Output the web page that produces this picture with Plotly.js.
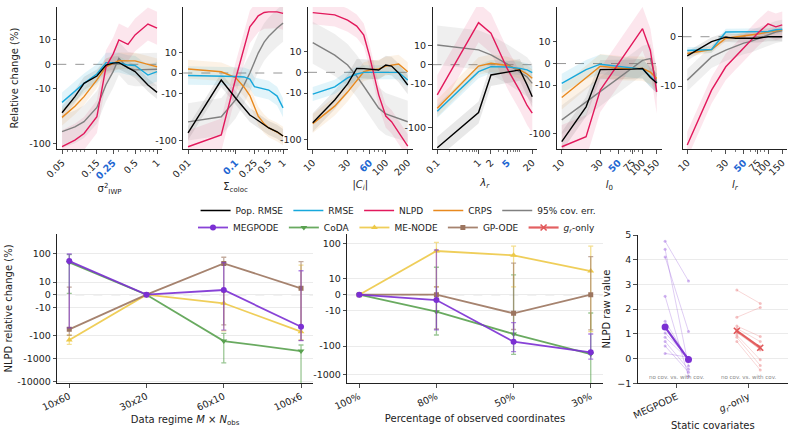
<!DOCTYPE html>
<html>
<head>
<meta charset="utf-8">
<script src="https://cdn.plot.ly/plotly-3.0.1.min.js"></script>
<style>
  html, body { margin: 0; padding: 0; background: #fff; }
  #chart { width: 794px; height: 431px; }
</style>
</head>
<body>
<div id="chart"></div>
<script>
// ---------------- sensitivity sweeps (relative change, %) ----------------
const metricNames = ['Pop. RMSE', 'RMSE', 'NLPD', 'CRPS', '95% cov. err.'];

const sigmaIwp   = [0.05, 0.075, 0.1, 0.15, 0.2, 0.25, 0.3, 0.4, 0.5, 0.75, 1];
const popRmseIwp = [-27.5, -14, -7.8, -4.8, -0.3, 0.5, 0.7, -1.2, -3, -8.5, -11.7];
const rmseIwp    = [-17.8, -11.4, -7.8, -4, 0.7, 0.7, 0.7, -0.3, -0.5, -4.4, -3];
const nlpdIwp    = [-115, -87, -66, -32.5, -1, 4.2, 10, 8.2, 12.4, 19.6, 16.4];
const crpsIwp    = [-33.5, -21, -14, -6.4, -1, 0.4, 1.5, 1.4, 1.4, 0, -1];
const covIwp     = [-61, -50, -40, -22, -8.4, -3, 2.5, -1.6, -2.3, -2.3, -2];
const spreadIwp  = [0.12, 0.18, 0.3, 0.15, 0.3];
const ticksIwp   = [0.05, 0.15, 0.25, 0.5, 1];
const defaultIwp = 0.25;

const sigmaColoc   = [0.01, 0.05, 0.1, 0.15, 0.2, 0.25, 0.3, 0.4, 0.5, 0.75, 1];
const popRmseColoc = [-69, -3.4, -12.3, -20, -28.5, -33, -38, -46, -54, -65, -80];
const rmseColoc    = [-1.2, -1.4, -1.7, -1.9, -2.9, -6.6, -7, -7.7, -8.2, -11.2, -20];
const nlpdColoc    = [-136, -76, -2.9, 12.3, 35, 46.6, 60, 71, 73, 73, 68];
const crpsColoc    = [1.9, 0.6, -2.2, -6.7, -10.9, -19, -30, -44, -54, -66, -80];
const covColoc     = [-40, -31, -13.5, -5.8, 0, 5.3, 9.6, 16.5, 22, 33, 42];
const spreadColoc  = [0.15, 0.2, 0.35, 0.2, 0.4];
const ticksColoc   = [0.01, 0.1, 0.25, 0.5, 1];
const defaultColoc = 0.1;

const cliqueSize    = [10, 20, 30, 40, 50, 60, 80, 100, 120, 150, 200];
const popRmseClique = [-43, -14, -5.6, 1.9, 1.8, 1.4, 1.1, 3.5, 3, -0.3, -6.1];
const rmseClique    = [-10.5, -7, -2.7, -0.8, 0, 0, 0, 0, 0, 0, -3.7];
const nlpdClique    = [68, 61, 47, 35, 22.4, 7.8, -10.9, -31, -41, -71, -136];
const crpsClique    = [-45, -19, -9.5, -3.7, 0.3, 1.1, 1.6, 3, 3.5, 4, 0.3];
const covClique     = [15.5, 8.3, 3.5, -1.8, -6.7, -11, -21, -28, -31, -34, -41];
const spreadClique  = [0.2, 0.15, 0.25, 0.2, 0.45];
const ticksClique   = [10, 30, 60, 100, 200];
const defaultClique = 60;

const lambdaR        = [0.1, 1, 2, 5, 10, 15, 20];
const popRmseLambda  = [-285, -44.6, -5.3, -3.8, -2.7, -10.4, -19.4];
const rmseLambda     = [-42, -3.6, -1, -1.2, -1.9, -2.7, -4.1];
const nlpdLambda     = [-17.7, 32.8, 18.8, -2.2, -14.3, -30.8, -46];
const crpsLambda     = [-35.7, -0.7, 0.7, -0.4, -2.7, -4.8, -7];
const covLambda      = [10.1, 7.6, 5, 0.3, -3.8, -6.3, -9.6];
const spreadLambda   = [0.25, 0.15, 0.45, 0.2, 0.45];
const ticksLambda    = [0.1, 1, 2, 5, 20];
const defaultLambda  = 5;

const lengthL0   = [10, 20, 30, 40, 50, 60, 75, 100, 125, 150];
const popRmseL0  = [-147, -28, -2.8, -2.8, -2.8, -2.8, -2.6, -2.3, -6.5, -9];
const rmseL0     = [-9.2, -2.8, -0.3, -0.8, -1.2, -1.6, -2.1, -2.6, -5.9, -9];
const nlpdL0     = [-187, -116, -12.7, -5.6, -0.5, 3.8, 9.1, 18.8, 6.1, -13.8];
const crpsL0     = [-18, -6.3, -1.2, -1.7, -2.1, -2.3, -2.3, -2.3, -4, -6.9];
const covL0      = [-52, -22.4, -13.7, -9.5, -6.9, -4.8, -2.1, 1.5, 2.3, -9];
const spreadL0   = [0.2, 0.2, 0.45, 0.25, 0.3];
const ticksL0    = [10, 30, 50, 75, 100, 150];
const defaultL0  = 50;

const lengthLr   = [10, 20, 30, 40, 50, 60, 75, 100, 125, 150];
const popRmseLr  = [-3.9, -1, -0.1, -0.3, -0.3, -0.3, -0.3, 0, 0, 0];
const rmseLr     = [-2.8, -2.6, 0.95, 0.95, 1.05, 1.05, 1.05, 1.05, 1.4, 1.5];
const nlpdLr     = [-34, -10.9, -6.1, -3.9, -2.3, -1, 0.75, 2.6, 2, 2.4];
const crpsLr     = [-3.4, -2.6, -0.3, -0.06, 0.15, 0.35, 0.55, 0.95, 1.2, 1.4];
const covLr      = [-8.8, -4.1, -2.7, -1.9, -1.3, -1, -0.4, 0.35, 0.95, 1.2];
const spreadLr   = [0.04, 0.03, 0.12, 0.03, 0.1];
const ticksLr    = [10, 30, 50, 75, 100, 150];
const defaultLr  = 50;

// ---------------- NLPD comparisons ----------------
const methodNames = ['MEGPODE', 'CoDA', 'ME-NODE', 'GP-ODE'];

const regimes        = ['10x60', '30x20', '60x10', '100x6'];
const megpodeRegime  = [47, 0, 3.7, -40];
const megpodeRegHi   = [96, 0, 40, 19];
const megpodeRegLo   = [-45, 0, -56, -163];
const codaRegime     = [41, 0, -170, -470];
const codaRegHi      = [90, 0, -78, -255];
const codaRegLo      = [1, 0, -1550, -20000];
const menodeRegime   = [-153, 0, -6.8, -66];
const menodeRegHi    = [-92, 0, 2, 31];
const menodeRegLo    = [-237, 0, -60, -150];
const gpodeRegime    = [-52, 0, 37, 5.1];
const gpodeRegHi     = [6, 0, 69, 44];
const gpodeRegLo     = [-95, 0, -33, -160];

const observedPct    = ['100%', '80%', '50%', '30%'];
const megpodeObs     = [0, -3.4, -70, -165];
const megpodeObsHi   = [0, 58, -17.7, -37.5];
const megpodeObsLo   = [0, -27, -157, -285];
const codaObs        = [0, -10.8, -37.5, -190];
const codaObsHi      = [0, 17.4, 12.5, -11.6];
const codaObsLo      = [0, -40.6, -195, -10000];
const menodeObs      = [0, 53.6, 37.8, 15];
const menodeObsHi    = [0, 108, 80, 80];
const menodeObsLo    = [0, 5, 5, -31];
const gpodeObs       = [0, 0, -11.8, 0];
const gpodeObsHi     = [0, 5, 20, 34];
const gpodeObsLo     = [0, -25, -26, -27];

const covariateModels = ['MEGPODE', '<i>g<sub>r</sub></i>-only'];
const megpodeNoCov    = [4.75, 4.42, 4.11, 2.52, 1.51, 1.04, 0.86, 0.69, 0.51, 0.21];
const megpodeWithCov  = [3.14, -0.3, 1.1, -0.72, -0.05, 0.02, -0.03, -0.43, -0.55, 0.05];
const grOnlyNoCov     = [2.77, 1.67, 1.32, 1.22, 1.15, 1.1, 0.95, 0.86, 0.69, 1.05];
const grOnlyWithCov   = [2.23, 2.07, 0.89, 0.69, 0.35, 0.5, -0.05, -0.28, -0.46, 0.38];

// ---------------- scales & helpers ----------------
const W = 794, H = 431;
const FONT = 'DejaVu Sans, Liberation Sans, sans-serif';
const dx = (l, r) => [l / W, r / W];
const dy = (t, b) => [1 - b / H, 1 - t / H];

// symlog, linear within +-10 (top row)
const topT = v => Math.abs(v) <= 10 ? 0.445 * v / 10 : Math.sign(v) * (0.445 + Math.log10(Math.abs(v) / 10));
// symlog, linear within +-20, linscale 1 (bottom row)
const LS = 1 / (1 - 0.1);
const botT = v => Math.abs(v) <= 20 ? LS * v / 20 : Math.sign(v) * (LS + Math.log10(Math.abs(v) / 20));

const median = a => { const s = a.slice().sort((p, q) => p - q); const n = s.length; return n % 2 ? s[(n - 1) / 2] : (s[n / 2 - 1] + s[n / 2]) / 2; };

const metricColors = ['#000000', '#17a8dc', '#e2195c', '#e8891e', '#808080'];
const metricFills  = ['rgba(0,0,0,0.09)', 'rgba(23,168,220,0.13)', 'rgba(226,25,92,0.11)', 'rgba(232,137,30,0.11)', 'rgba(128,128,128,0.13)'];
const methodColors = ['#7b2fd3', '#59a14f', '#edc948', '#9c755f'];
const methodRgb    = ['123,47,211', '89,161,79', '237,201,72', '156,117,95'];
const methodSymbols = ['circle', 'triangle-down', 'triangle-up', 'square'];
const redRgb = '225,87,89';
const HIGHLIGHT = '#1f67d2';

const topPanels = [
  { x: sigmaIwp,   s: [popRmseIwp, rmseIwp, nlpdIwp, crpsIwp, covIwp],               w: spreadIwp,    ticks: ticksIwp,    ref: defaultIwp,    label: 'σ<sup>2</sup><sub>IWP</sub>',  yr: [-1.548, 1.048], yt: [10, 0, -10, -100] },
  { x: sigmaColoc, s: [popRmseColoc, rmseColoc, nlpdColoc, crpsColoc, covColoc],    w: spreadColoc,  ticks: ticksColoc,  ref: defaultColoc,  label: 'Σ<sub>coloc</sub>',            yr: [-1.627, 1.413], yt: [10, 0, -10, -100] },
  { x: cliqueSize, s: [popRmseClique, rmseClique, nlpdClique, crpsClique, covClique], w: spreadClique, ticks: ticksClique, ref: defaultClique, label: '|<i>C<sub>i</sub></i>|',       yr: [-1.642, 1.399], yt: [10, 0, -10, -100] },
  { x: lambdaR,    s: [popRmseLambda, rmseLambda, nlpdLambda, crpsLambda, covLambda], w: spreadLambda, ticks: ticksLambda, ref: defaultLambda, label: '<i>λ<sub>r</sub></i>',          yr: [-1.93, 1.32],   yt: [10, 0, -10, -100] },
  { x: lengthL0,   s: [popRmseL0, rmseL0, nlpdL0, crpsL0, covL0],                      w: spreadL0,     ticks: ticksL0,     ref: defaultL0,     label: '<i>l</i><sub>0</sub>',         yr: [-1.763, 1.167], yt: [10, 0, -10, -100] },
  { x: lengthLr,   s: [popRmseLr, rmseLr, nlpdLr, crpsLr, covLr],                      w: spreadLr,     ticks: ticksLr,     ref: defaultLr,     label: '<i>l<sub>r</sub></i>',         yr: [-1.013, 0.268], yt: [0, -10] }
];
const topLefts = [57.3, 183.3, 308, 432.5, 557, 682.5];
const topWidth = 104.5;

const traces = [];
const layout = {
  width: W, height: H,
  margin: { l: 0, r: 0, t: 0, b: 0 },
  paper_bgcolor: '#fff', plot_bgcolor: 'rgba(0,0,0,0)',
  font: { family: FONT, size: 9, color: '#222' },
  showlegend: true,
  shapes: [], annotations: [],
  legend: {
    orientation: 'h', x: 0.502, xanchor: 'center', y: 1 - 196 / H, yanchor: 'top',
    font: { size: 9, family: FONT, color: '#222' }, bgcolor: 'rgba(0,0,0,0)', itemwidth: 30, traceorder: 'normal'
  },
  legend2: {
    orientation: 'h', x: 0.5, xanchor: 'center', y: 1 - 213 / H, yanchor: 'top',
    font: { size: 9, family: FONT, color: '#222' }, bgcolor: 'rgba(0,0,0,0)', itemwidth: 30, traceorder: 'normal'
  }
};

const axisBase = {
  showline: true, linecolor: '#222', linewidth: 1, mirror: false,
  ticks: 'outside', ticklen: 3.5, tickwidth: 0.8, tickcolor: '#222',
  zeroline: false, showgrid: false,
  tickfont: { size: 9.5, family: FONT, color: '#222' }
};

function minorLogTicks(lo, hi, majors) {
  const out = [];
  for (let k = Math.floor(Math.log10(lo)) - 1; k <= Math.ceil(Math.log10(hi)); k++) {
    for (let m = 1; m <= 9; m++) {
      const v = m * Math.pow(10, k);
      if (v >= lo * 0.999 && v <= hi * 1.001 && !majors.some(t => Math.abs(t - v) / v < 1e-6)) out.push(v);
    }
  }
  return out;
}

// ---------------- top row: one panel per hyper-parameter ----------------
const lineOrder = [4, 3, 1, 2, 0];
topPanels.forEach((p, i) => {
  const id = i === 0 ? '' : String(i + 1);
  const xa = 'x' + id, ya = 'y' + id;
  p.s.forEach((vals, m) => {
    const up = vals.map(v => topT(v) + p.w[m]);
    const dn = vals.map(v => topT(v) - p.w[m]);
    traces.push({
      type: 'scatter', mode: 'lines', xaxis: xa, yaxis: ya,
      x: p.x.concat(p.x.slice().reverse()), y: up.concat(dn.reverse()),
      fill: 'toself', fillcolor: metricFills[m], line: { width: 0 },
      hoverinfo: 'skip', showlegend: false
    });
  });
  lineOrder.forEach(m => {
    traces.push({
      type: 'scatter', mode: 'lines', xaxis: xa, yaxis: ya,
      x: p.x, y: p.s[m].map(topT), name: metricNames[m],
      line: { color: metricColors[m], width: 1.4 },
      showlegend: i === 0, legend: 'legend', legendrank: m + 1
    });
  });

  const lo = Math.log10(p.x[0]), hi = Math.log10(p.x[p.x.length - 1]), span = hi - lo;
  const l = topLefts[i];
  layout['xaxis' + id] = Object.assign({}, axisBase, {
    domain: dx(l, l + topWidth), anchor: ya, type: 'log',
    range: [lo - 0.05 * span, hi + 0.05 * span],
    tickmode: 'array', tickvals: p.ticks,
    ticktext: p.ticks.map(t => t === p.ref ? '<span style="color:' + HIGHLIGHT + '"><b>' + t + '</b></span>' : String(t)),
    tickangle: -45,
    minor: { tickmode: 'array', tickvals: minorLogTicks(p.x[0], p.x[p.x.length - 1], p.ticks), ticks: 'outside', ticklen: 2, tickwidth: 0.6, tickcolor: '#222', showgrid: false },
    title: { text: p.label, font: { size: 10, family: FONT, color: '#222' }, standoff: 4 }
  });
  layout['yaxis' + id] = Object.assign({}, axisBase, {
    domain: dy(7, 149), anchor: xa, range: p.yr,
    tickmode: 'array', tickvals: p.yt.map(topT), ticktext: p.yt.map(String)
  });
  if (i === 0) layout['yaxis'].title = { text: 'Relative change (%)', font: { size: 10, family: FONT, color: '#222' }, standoff: 8 };
  layout.shapes.push({
    type: 'line', xref: xa + ' domain', x0: 0, x1: 1, yref: ya, y0: 0, y1: 0,
    line: { color: '#8a8a8a', width: 0.9, dash: 'dash' }, layer: 'below'
  });
});

// ---------------- bottom row: relative NLPD change ----------------
function errBars(vals, hi, lo, rgb) {
  return {
    type: 'data', symmetric: false,
    array: vals.map((v, k) => botT(hi[k]) - botT(v)),
    arrayminus: vals.map((v, k) => botT(v) - botT(lo[k])),
    color: 'rgba(' + rgb + ',0.6)', thickness: 1.3, width: 2.5
  };
}

const regimeSets = [
  [megpodeRegime, megpodeRegHi, megpodeRegLo],
  [codaRegime, codaRegHi, codaRegLo],
  [menodeRegime, menodeRegHi, menodeRegLo],
  [gpodeRegime, gpodeRegHi, gpodeRegLo]
];
const obsSets = [
  [megpodeObs, megpodeObsHi, megpodeObsLo],
  [codaObs, codaObsHi, codaObsLo],
  [menodeObs, menodeObsHi, menodeObsLo],
  [gpodeObs, gpodeObsHi, gpodeObsLo]
];
const methodOrder = [1, 2, 3, 0];

[[regimeSets, regimes, '7'], [obsSets, observedPct, '8']].forEach(([sets, cats, id], b) => {
  methodOrder.forEach(m => {
    const [vals, hi, lo] = sets[m];
    traces.push({
      type: 'scatter', mode: 'lines+markers', xaxis: 'x' + id, yaxis: 'y' + id,
      x: cats.map((c, k) => k), y: vals.map(botT), name: methodNames[m],
      line: { color: 'rgba(' + methodRgb[m] + ',0.9)', width: 1.8 },
      marker: { color: methodColors[m], size: m === 3 ? 5 : 6, symbol: methodSymbols[m] },
      error_y: errBars(vals, hi, lo, methodRgb[m]),
      showlegend: b === 0, legend: 'legend2', legendrank: m + 1
    });
  });
});

const bottomLeftYT  = [100, 10, 0, -10, -100, -1000, -10000];
const bottomMidYT   = [100, 10, 0, -10, -100, -1000];
const bottomGrid = { showgrid: true, gridcolor: '#ebebeb', gridwidth: 1 };

layout.xaxis7 = Object.assign({}, axisBase, {
  domain: dx(57.3, 313), anchor: 'y7', range: [-0.155, 3.155],
  tickmode: 'array', tickvals: [0, 1, 2, 3], ticktext: regimes, tickangle: -25,
  title: { text: 'Data regime <i>M</i> × <i>N</i><sub>obs</sub>', font: { size: 10, family: FONT, color: '#222' }, standoff: 4 }
});
layout.yaxis7 = Object.assign({}, axisBase, bottomGrid, {
  domain: dy(234, 383), anchor: 'x7', range: [-3.89, 2.674],
  tickmode: 'array', tickvals: bottomLeftYT.map(botT), ticktext: bottomLeftYT.map(String),
  title: { text: 'NLPD relative change (%)', font: { size: 10, family: FONT, color: '#222' }, standoff: 2 }
});
layout.xaxis8 = Object.assign({}, axisBase, {
  domain: dx(347.3, 602.7), anchor: 'y8', range: [-0.155, 3.155],
  tickmode: 'array', tickvals: [0, 1, 2, 3], ticktext: observedPct, tickangle: -25,
  title: { text: 'Percentage of observed coordinates', font: { size: 10, family: FONT, color: '#222' }, standoff: 4 }
});
layout.yaxis8 = Object.assign({}, axisBase, bottomGrid, {
  domain: dy(234, 383), anchor: 'x8', range: [-3.109, 2.137],
  tickmode: 'array', tickvals: bottomMidYT.map(botT), ticktext: bottomMidYT.map(String)
});
['7', '8'].forEach(id => layout.shapes.push({
  type: 'line', xref: 'x' + id + ' domain', x0: 0, x1: 1, yref: 'y' + id, y0: 0, y1: 0,
  line: { color: '#b5b5b5', width: 1, dash: 'dash' }, layer: 'below'
}));

// ---------------- bottom right: static covariates ----------------
const pairOffset = 0.163;
const covPairs = [[megpodeNoCov, megpodeWithCov, '123,47,211', 'circle'], [grOnlyNoCov, grOnlyWithCov, redRgb, 'x-thin']];
covPairs.forEach(([noCov, withCov, rgb, sym], g) => {
  noCov.forEach((v, k) => {
    traces.push({
      type: 'scatter', mode: 'lines+markers', xaxis: 'x9', yaxis: 'y9',
      x: [g - pairOffset, g + pairOffset], y: [v, withCov[k]],
      line: { color: 'rgba(' + rgb + ',0.3)', width: 0.8 },
      marker: { color: 'rgba(' + rgb + ',0.35)', size: 3, symbol: 'circle' },
      hoverinfo: 'skip', showlegend: false
    });
  });
});
covPairs.forEach(([noCov, withCov, rgb, sym], g) => {
  traces.push({
    type: 'scatter', mode: 'lines+markers', xaxis: 'x9', yaxis: 'y9',
    x: [g - pairOffset, g + pairOffset], y: [median(noCov), median(withCov)],
    name: g === 0 ? 'MEGPODE' : '<i>g<sub>r</sub></i>-only',
    line: { color: 'rgba(' + rgb + ',0.95)', width: 2.2 },
    marker: { color: 'rgb(' + rgb + ')', size: g === 0 ? 7 : 6, symbol: sym, line: { width: g === 0 ? 0 : 1.6, color: 'rgb(' + rgb + ')' } },
    showlegend: g === 1, legend: 'legend2', legendrank: 5
  });
  layout.annotations.push({
    xref: 'x9', yref: 'y9', x: g, y: -0.73, text: 'no cov. vs. with cov.', showarrow: false,
    font: { size: 5.5, family: FONT, color: '#888' }
  });
});

layout.xaxis9 = Object.assign({}, axisBase, {
  domain: dx(637.7, 788), anchor: 'y9', range: [-0.545, 1.55],
  tickmode: 'array', tickvals: [0, 1], ticktext: covariateModels, tickangle: -25,
  title: { text: 'Static covariates', font: { size: 10, family: FONT, color: '#222' }, standoff: 4 }
});
layout.yaxis9 = Object.assign({}, axisBase, bottomGrid, {
  domain: dy(235, 383.3), anchor: 'x9', range: [-1, 5],
  tickmode: 'array', tickvals: [-1, 0, 1, 2, 3, 4, 5], ticktext: ['−1', '0', '1', '2', '3', '4', '5'],
  title: { text: 'NLPD raw value', font: { size: 10, family: FONT, color: '#222' }, standoff: 4 }
});

Plotly.newPlot('chart', traces, layout, { displayModeBar: false, staticPlot: true });
</script>
</body>
</html>
